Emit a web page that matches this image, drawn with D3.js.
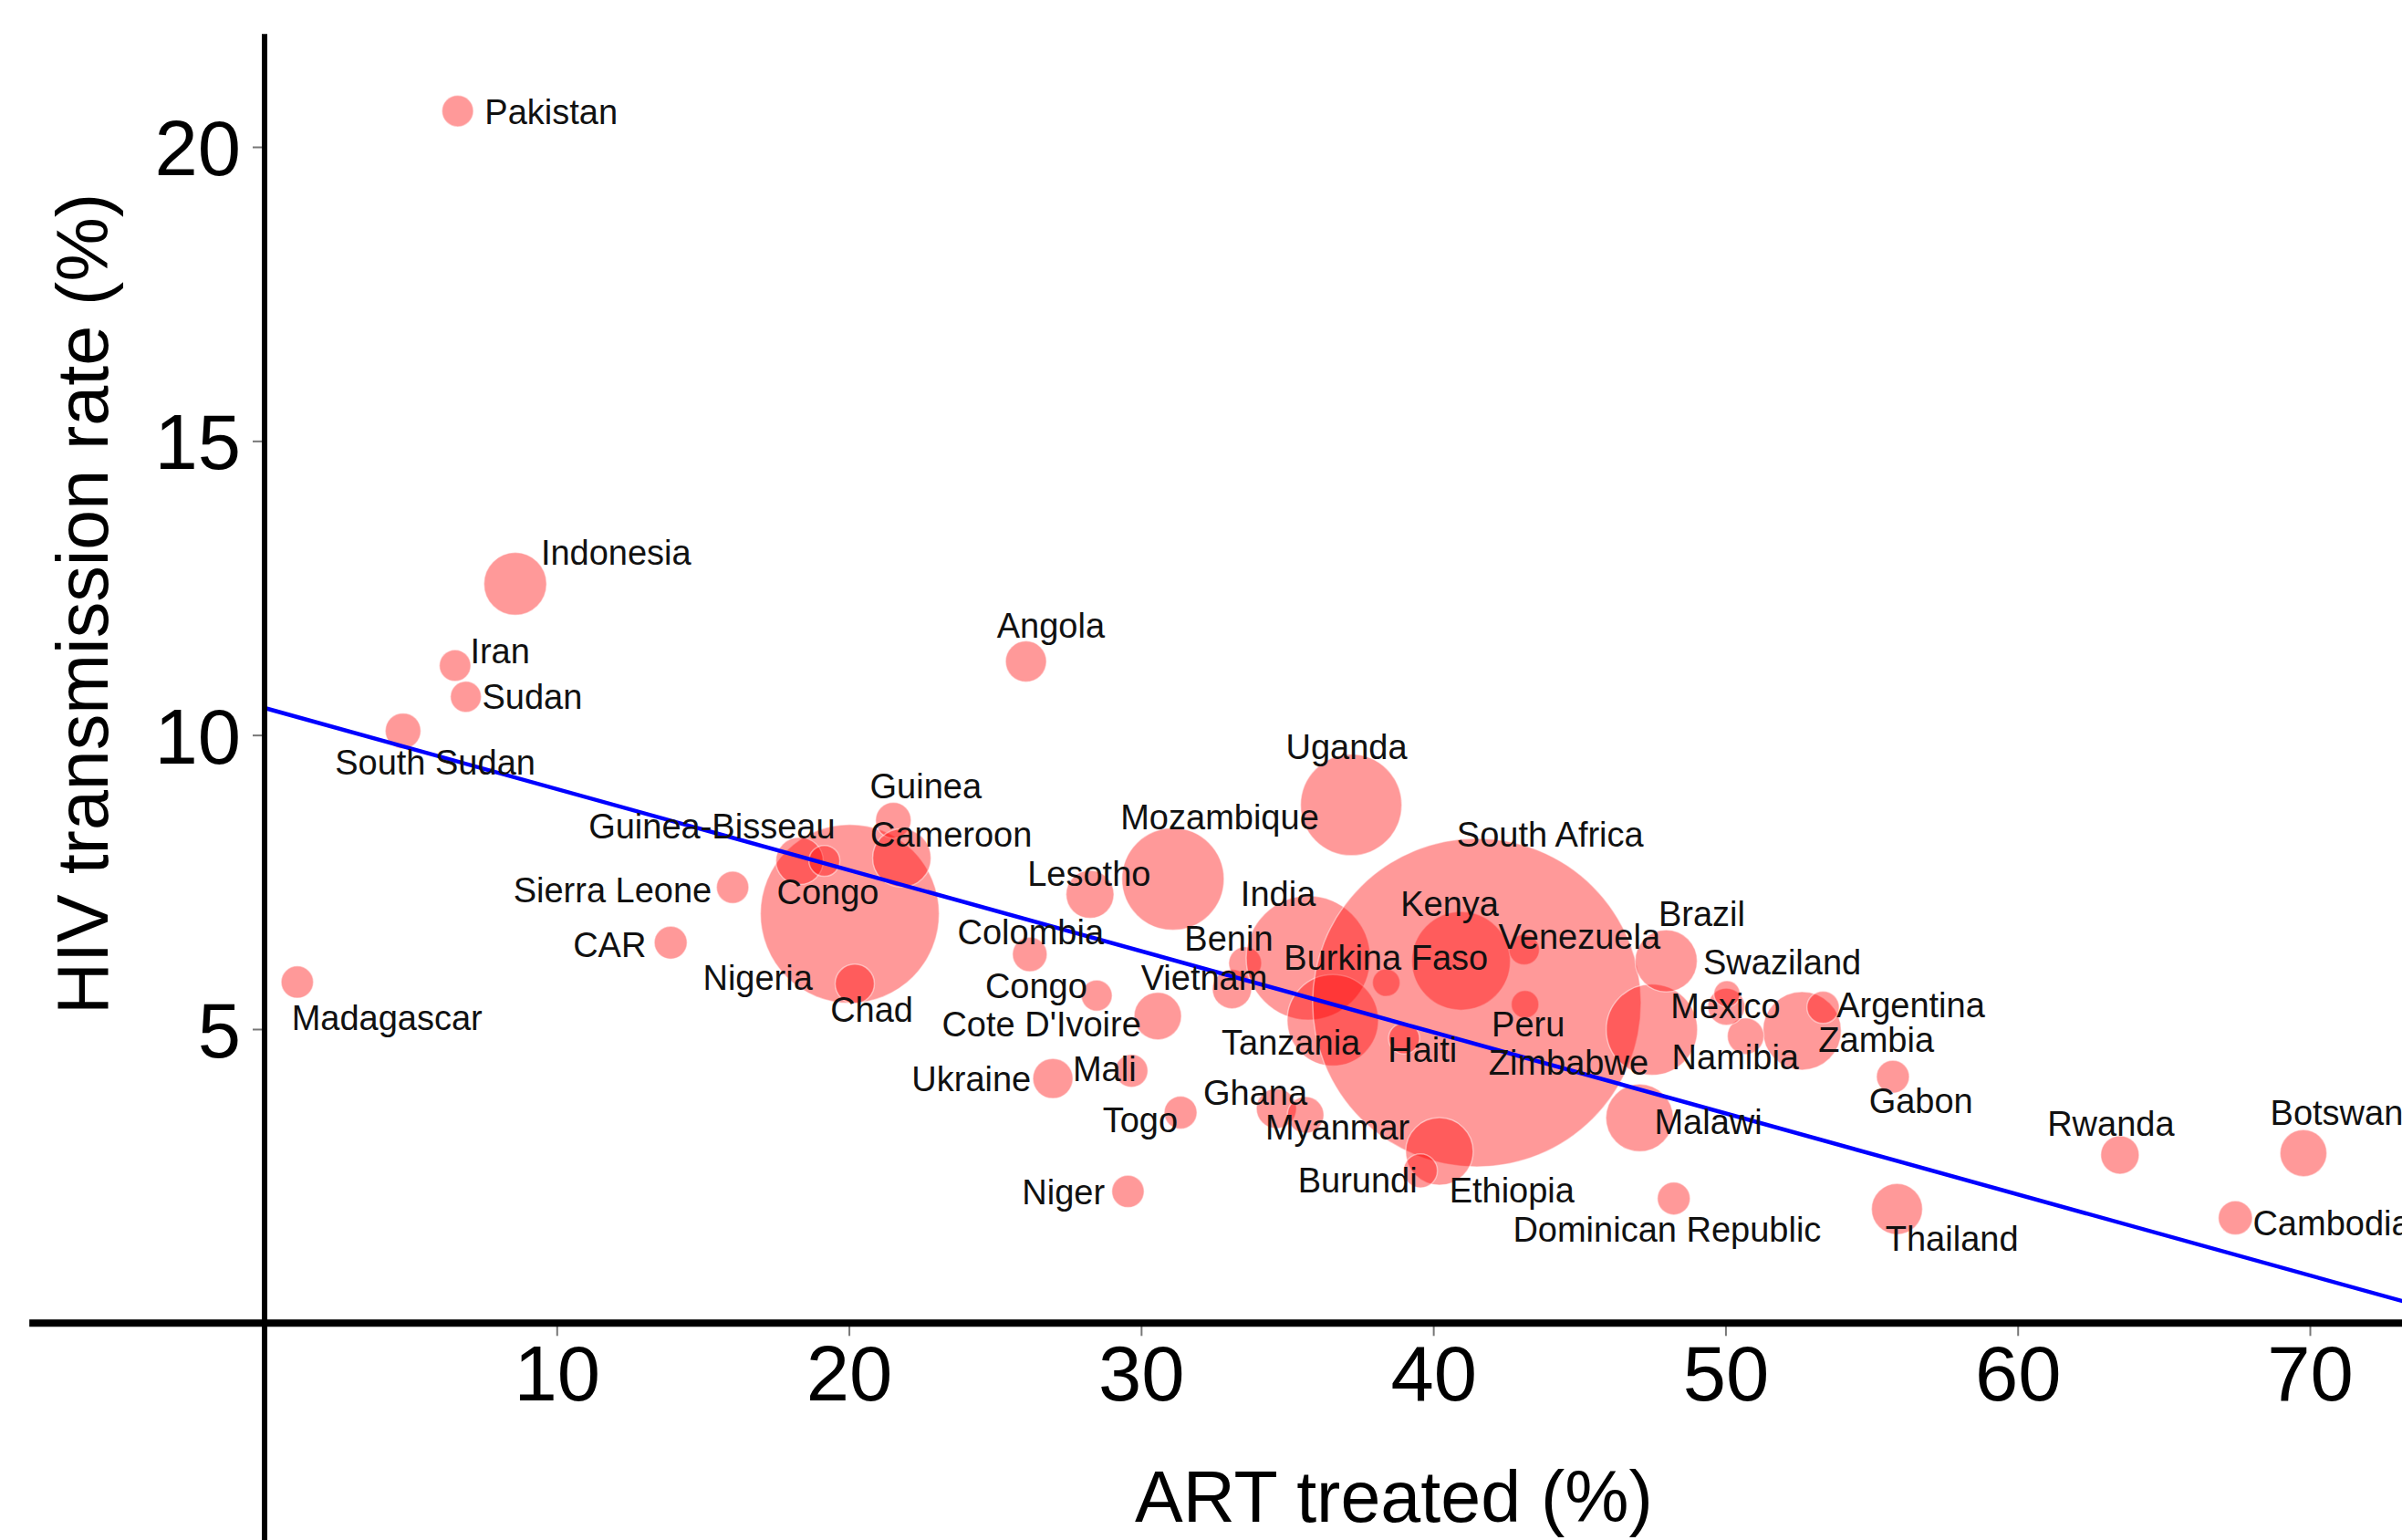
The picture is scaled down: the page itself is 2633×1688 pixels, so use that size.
<!DOCTYPE html>
<html>
<head>
<meta charset="utf-8">
<script src="https://cdn.jsdelivr.net/npm/d3@7"></script>
<style>
  body { margin: 0; background: #fff; }
  text { font-family: "Liberation Sans", Arial, sans-serif; }
</style>
</head>
<body>
<div id="chart"></div>
<script>
// ---- data ----
const countries = ["Pakistan", "Indonesia", "Iran", "Sudan", "South Sudan", "Madagascar", "CAR", "Sierra Leone",
    "Nigeria", "Congo", "Guinea-Bisseau", "Chad", "Guinea", "Cameroon", "Angola", "Uganda", "Mozambique",
    "Lesotho", "Colombia", "Congo", "Cote D'Ivoire", "Ukraine", "Mali", "Togo", "Niger", "Ghana", "Myanmar",
    "Vietnam", "Benin", "India", "Tanzania", "Burkina Faso", "Kenya", "Venezuela", "Peru", "South Africa",
    "Haiti", "Zimbabwe", "Brazil", "Malawi", "Ethiopia", "Burundi", "Dominican Republic", "Zambia",
    "Argentina", "Gabon", "Thailand", "Rwanda", "Botswana", "Cambodia", "Namibia", "Mexico", "Swaziland"];

// ART treated (%)
const artTreated = [6.61, 8.58, 6.52, 6.89, 4.74, 1.12, 13.9, 16.02,
    20.03, 18.31, 19.16, 20.2, 21.52, 21.81, 26.06, 37.19, 31.09,
    28.25, 26.19, 28.48, 30.57, 26.98, 29.67, 31.35, 29.55, 34.63, 35.63,
    33.11, 33.56, 35.72, 36.56, 38.39, 40.95, 43.11, 43.14, 41.49,
    39.0, 47.48, 47.97, 47.06, 40.21, 39.56, 48.23, 52.62,
    53.34, 55.73, 55.87, 63.5, 69.78, 67.45, 50.69, 50.03, 50.05];

// HIV transmission rate (%)
const transmission = [20.61, 12.57, 11.18, 10.65, 10.07, 5.8, 6.47, 7.41,
    6.96, 7.86, 7.86, 5.77, 8.55, 7.91, 11.25, 8.81, 7.55,
    7.29, 6.27, 5.57, 5.22, 4.16, 4.29, 3.58, 2.24, 3.65, 3.54,
    5.68, 6.12, 6.21, 5.15, 5.79, 6.16, 6.35, 5.42, 5.45,
    4.84, 4.99, 6.16, 3.49, 2.92, 2.59, 2.12, 4.97,
    5.37, 4.19, 1.94, 2.86, 2.89, 1.79, 4.88, 5.38, 5.6];

// people living with HIV (thousands), bubble size
const hivPop = [58, 230, 58, 56, 74, 61, 63, 61,
    1867, 131, 56, 90, 74, 199, 98, 599, 610,
    134, 70, 56, 131, 94, 63, 63, 61, 94, 78,
    90, 63, 899, 486, 44, 567, 54, 44, 6300,
    56, 486, 225, 266, 266, 67, 63, 359,
    61, 63, 152, 86, 128, 68, 78, 80, 40];

// repelled label positions (same units as the axes)
const labelX = [9.81, 12.03, 8.06, 9.16, 5.84, 4.19, 11.81, 11.91,
    16.88, 19.28, 15.31, 20.78, 22.63, 23.5, 26.91, 37.03, 32.69,
    28.22, 26.22, 26.41, 26.59, 24.19, 28.75, 29.97, 27.34, 33.91, 36.72,
    32.16, 33.0, 34.69, 35.13, 38.38, 40.56, 45.0, 43.25, 44.0,
    39.63, 44.63, 49.19, 49.41, 42.69, 37.41, 48.0, 55.16,
    56.34, 56.69, 57.75, 63.19, 71.25, 70.75, 50.34, 50.0, 51.94];
const labelY = [20.6, 13.11, 11.43, 10.66, 9.54, 5.19, 6.44, 7.37,
    5.88, 7.33, 8.46, 5.34, 9.14, 8.31, 11.86, 9.81, 8.61,
    7.65, 6.66, 5.74, 5.08, 4.16, 4.32, 3.46, 2.24, 3.93, 3.34,
    5.88, 6.54, 7.3, 4.78, 6.22, 7.14, 6.57, 5.08, 8.31,
    4.66, 4.43, 6.96, 3.43, 2.27, 2.43, 1.6, 4.83,
    5.42, 3.79, 1.45, 3.39, 3.59, 1.71, 4.53, 5.4, 6.15];

// linear fit, end points
const fitX = [0, 73.2];
const fitY = [10.46, 0.37];

const xTicks = [10, 20, 30, 40, 50, 60, 70];
const yTicks = [5, 10, 15, 20];

// ---- layout ----
const cfg = {
    width: 2633,
    height: 1688,
    xExtent: [-8.05, 73.2],   // where the zero lines run
    yExtent: [-3.7, 21.92],
    fill: "red",
    alpha: 0.4
};

const data = countries.map((c, i) => ({
    name: c, x: artTreated[i], y: transmission[i], size: hivPop[i], lx: labelX[i], ly: labelY[i]
}));

const x = d3.scaleLinear().domain([0, 70]).range([290, 2532]);
const y = d3.scaleLinear().domain([0, 20]).range([1450.3, 161]);
const r = d3.scaleSqrt().domain([0, 6300]).range([0, 180]);

const svg = d3.select("#chart")
    .append("svg")
    .attr("width", cfg.width)
    .attr("height", cfg.height)
    .style("background", "#fff");

// bubbles
svg.append("g")
    .selectAll("circle")
    .data(data)
    .enter().append("circle")
    .attr("cx", d => x(d.x))
    .attr("cy", d => y(d.y))
    .attr("r", d => r(d.size))
    .attr("fill", cfg.fill)
    .attr("fill-opacity", cfg.alpha)
    .attr("stroke", "#fff")
    .attr("stroke-opacity", 0.45)
    .attr("stroke-width", 1.5);

// regression line
svg.append("path")
    .datum(fitX.map((v, i) => [v, fitY[i]]))
    .attr("fill", "none")
    .attr("stroke", "#0000ff")
    .attr("stroke-width", 4.5)
    .attr("d", d3.line().x(d => x(d[0])).y(d => y(d[1])));

// labels
svg.append("g")
    .selectAll("text")
    .data(data)
    .enter().append("text")
    .attr("x", d => x(d.lx))
    .attr("y", d => y(d.ly))
    .attr("dy", "0.36em")
    .attr("text-anchor", "middle")
    .attr("font-size", 38)
    .attr("fill", "#111")
    .text(d => d.name);

// axes (ticks and labels only, the lines are the zero lines)
const xAxis = svg.append("g")
    .attr("transform", "translate(0," + y(0) + ")")
    .call(d3.axisBottom(x).tickValues(xTicks).tickSize(14).tickPadding(10));

const yAxis = svg.append("g")
    .attr("transform", "translate(" + x(0) + ",0)")
    .call(d3.axisLeft(y).tickValues(yTicks).tickSize(13).tickPadding(13));

[xAxis, yAxis].forEach(g => {
    g.select(".domain").remove();
    g.selectAll(".tick line").attr("stroke", "#777").attr("stroke-width", 2);
    g.selectAll(".tick text")
        .attr("font-size", 85)
        .attr("font-family", "'Liberation Sans', Arial, sans-serif")
        .attr("fill", "#000");
});
yAxis.selectAll(".tick text").attr("dy", "0.36em");

// zero lines
svg.append("line")
    .attr("x1", x(cfg.xExtent[0])).attr("x2", x(cfg.xExtent[1]))
    .attr("y1", y(0)).attr("y2", y(0))
    .attr("stroke", "#000").attr("stroke-width", 8);

svg.append("line")
    .attr("x1", x(0)).attr("x2", x(0))
    .attr("y1", y(cfg.yExtent[1])).attr("y2", y(cfg.yExtent[0]))
    .attr("stroke", "#000").attr("stroke-width", 6);

// axis titles
svg.append("text")
    .attr("x", 1528)
    .attr("y", 1668)
    .attr("text-anchor", "middle")
    .attr("font-size", 79)
    .text("ART treated (%)");

svg.append("text")
    .attr("transform", "translate(118,662) rotate(-90)")
    .attr("text-anchor", "middle")
    .attr("font-size", 79)
    .text("HIV transmission rate (%)");
</script>
</body>
</html>
